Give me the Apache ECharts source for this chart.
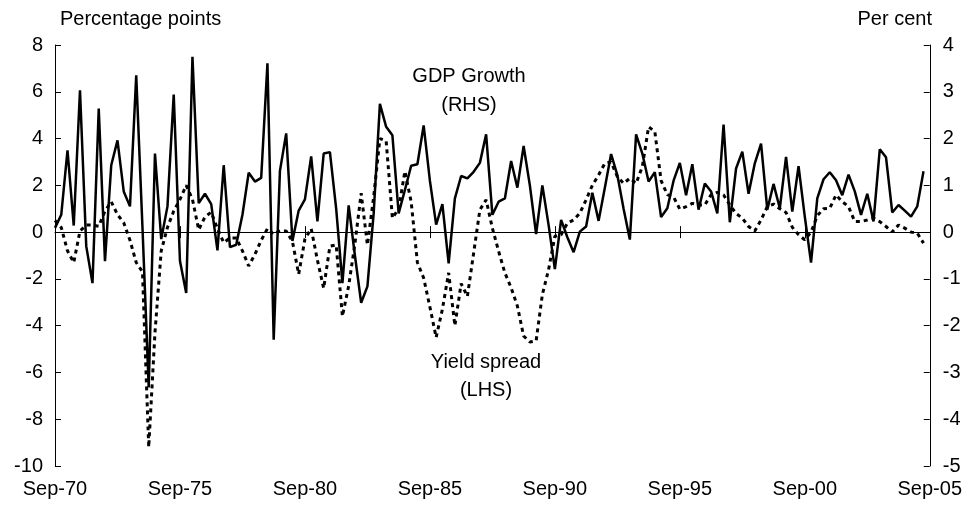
<!DOCTYPE html>
<html>
<head>
<meta charset="utf-8">
<script src="https://cdn.jsdelivr.net/npm/echarts@6/dist/echarts.min.js"></script>
<style>
  html, body { margin: 0; padding: 0; background: #ffffff; }
  #chart { width: 965px; height: 508px; }
</style>
</head>
<body>
<div id="chart"></div>
<script>
// Quarterly GDP growth, per cent (right-hand scale), Sep-70 onwards
const gdpGrowth = [
  0.09, 0.37, 1.75, 0.14, 3.03, -0.30, -1.09, 2.64, -0.62, 1.43,
  1.96, 0.87, 0.55, 3.35, 0.10, -3.32, 1.68, -0.15, 0.55, 2.94,
  -0.62, -1.30, 3.75, 0.62, 0.82, 0.60, -0.39, 1.43, -0.32, -0.27,
  0.37, 1.27, 1.08, 1.16, 3.61, -2.30, 1.31, 2.11, -0.19, 0.46,
  0.70, 1.62, 0.23, 1.68, 1.71, 0.50, -1.09, 0.57, -0.50, -1.51,
  -1.16, 0.40, 2.74, 2.25, 2.07, 0.40, 0.90, 1.42, 1.45, 2.28,
  1.10, 0.16, 0.60, -0.67, 0.72, 1.20, 1.15, 1.29, 1.48, 2.09,
  0.37, 0.65, 0.72, 1.52, 0.95, 1.84, 1.00, -0.04, 1.00, 0.15,
  -0.79, 0.26, -0.11, -0.43, 0.01, 0.12, 0.84, 0.24, 0.95, 1.67,
  1.22, 0.50, -0.16, 2.09, 1.68, 1.08, 1.28, 0.32, 0.51, 1.10,
  1.48, 0.79, 1.45, 0.48, 1.04, 0.87, 0.40, 2.30, 0.21, 1.36,
  1.72, 0.82, 1.47, 1.89, 0.48, 1.03, 0.51, 1.61, 0.44, 1.41,
  0.33, -0.65, 0.72, 1.13, 1.28, 1.11, 0.79, 1.23, 0.87, 0.37,
  0.82, 0.23, 1.77, 1.60, 0.42, 0.58, 0.46, 0.33, 0.55, 1.30
];

// Yield spread, percentage points (left-hand scale)
const yieldSpread = [
  0.50, 0.20, -0.80, -1.30, 0.05, 0.30, 0.30, 0.25, 0.90, 1.30,
  0.75, 0.40, -0.35, -1.30, -1.70, -9.20, -4.30, -0.80, 0.20, 0.90,
  1.40, 2.00, 1.40, 0.10, 0.65, 0.85, 0.15, -0.45, -0.25, -0.25,
  -0.80, -1.45, -0.95, -0.35, 0.15, -0.10, 0.05, 0.05, -0.40, -1.80,
  -0.30, 0.15, -1.20, -2.40, -0.60, -0.55, -3.60, -2.30, -0.50, 1.66,
  -0.55, 1.50, 4.00, 3.90, 0.60, 1.00, 2.60, 1.30, -1.30, -1.96,
  -3.20, -4.50, -3.30, -1.74, -4.00, -2.20, -2.75, -0.90, 0.95, 1.38,
  0.17, -0.82, -1.74, -2.38, -3.16, -4.44, -4.70, -4.65, -2.67, -1.60,
  -0.18, -0.11, 0.38, 0.52, 0.81, 1.38, 2.00, 2.44, 2.94, 3.00,
  2.37, 2.08, 2.30, 2.08, 2.80, 4.50, 4.30, 2.20, 1.60, 1.50,
  0.98, 1.09, 1.23, 1.16, 1.16, 1.60, 1.70, 1.59, 1.16, 0.80,
  0.60, 0.24, 0.05, 0.52, 1.09, 1.20, 1.00, 0.84, 0.21, -0.11,
  -0.33, 0.00, 0.70, 1.00, 1.02, 1.59, 1.30, 1.09, 0.45, 0.45,
  0.52, 0.60, 0.45, 0.24, 0.01, 0.30, 0.17, 0.00, -0.04, -0.47
];

// Axis tick labels shown on the date axis
const tickLabels = ['Sep-70', 'Sep-75', 'Sep-80', 'Sep-85', 'Sep-90', 'Sep-95', 'Sep-00', 'Sep-05'];

// Quarter names from Sep-70 to Sep-05
const monthNames = ['Sep', 'Dec', 'Mar', 'Jun'];
const quarters = [];
for (let k = 0; k <= 140; k++) {
  const yr = (70 + Math.floor((k + 2) / 4)) % 100;
  quarters.push(monthNames[k % 4] + '-' + String(yr).padStart(2, '0'));
}

const FONT = '"Liberation Sans", Arial, sans-serif';
const FS = 20;
const isTick = (idx, val) => tickLabels.indexOf(val) >= 0;

const chart = echarts.init(document.getElementById('chart'), null, { renderer: 'canvas' });

const dateAxisBase = {
  type: 'category',
  data: quarters,
  boundaryGap: false,
  splitLine: { show: false }
};

chart.setOption({
  animation: false,
  backgroundColor: '#ffffff',
  grid: { left: 55, right: 35, top: 45, bottom: 42, containLabel: false },
  xAxis: [
    Object.assign({}, dateAxisBase, {
      position: 'bottom',
      axisLine: { show: false, onZero: false },
      axisTick: { show: false },
      axisLabel: {
        interval: isTick,
        margin: 13,
        color: '#000',
        fontFamily: FONT,
        fontSize: FS
      }
    }),
    Object.assign({}, dateAxisBase, {
      position: 'bottom',
      axisLine: { show: true, onZero: true, onZeroAxisIndex: 0, lineStyle: { color: '#000', width: 1 } },
      axisTick: { show: true, inside: false, length: 6, interval: isTick, lineStyle: { color: '#000', width: 1 } },
      axisLabel: { show: false }
    }),
    Object.assign({}, dateAxisBase, {
      position: 'bottom',
      axisLine: { show: false, onZero: true, onZeroAxisIndex: 1 },
      axisTick: { show: true, inside: true, length: 6, interval: isTick, lineStyle: { color: '#000', width: 1 } },
      axisLabel: { show: false }
    })
  ],
  yAxis: [
    {
      type: 'value',
      position: 'left',
      min: -10, max: 8, interval: 2,
      axisLine: { show: true, onZero: false, lineStyle: { color: '#000', width: 1 } },
      axisTick: { show: true, inside: true, length: 6, lineStyle: { color: '#000', width: 1 } },
      splitLine: { show: false },
      axisLabel: { margin: 12, color: '#000', fontFamily: FONT, fontSize: FS }
    },
    {
      type: 'value',
      position: 'right',
      min: -5, max: 4, interval: 1,
      axisLine: { show: true, onZero: false, lineStyle: { color: '#000', width: 1 } },
      axisTick: { show: true, inside: true, length: 6, lineStyle: { color: '#000', width: 1 } },
      splitLine: { show: false },
      axisLabel: { margin: 13, color: '#000', fontFamily: FONT, fontSize: FS }
    }
  ],
  series: [
    {
      name: 'Yield spread',
      type: 'line',
      xAxisIndex: 0,
      yAxisIndex: 0,
      data: yieldSpread,
      showSymbol: false,
      lineStyle: { color: '#000', width: 3, type: [4, 4], cap: 'butt' },
      z: 2
    },
    {
      name: 'GDP Growth',
      type: 'line',
      xAxisIndex: 0,
      yAxisIndex: 1,
      data: gdpGrowth,
      showSymbol: false,
      lineStyle: { color: '#000', width: 2.5 },
      z: 3
    }
  ],
  graphic: [
    { type: 'text', left: 60, top: 9, style: { text: 'Percentage points', font: FS + 'px ' + FONT, fill: '#000' } },
    { type: 'text', right: 33, top: 9, style: { text: 'Per cent', font: FS + 'px ' + FONT, fill: '#000' } },
    { type: 'text', x: 469, y: 76, style: { text: 'GDP Growth', font: FS + 'px ' + FONT, fill: '#000', align: 'center', verticalAlign: 'middle' } },
    { type: 'text', x: 469, y: 105, style: { text: '(RHS)', font: FS + 'px ' + FONT, fill: '#000', align: 'center', verticalAlign: 'middle' } },
    { type: 'text', x: 486, y: 362, style: { text: 'Yield spread', font: FS + 'px ' + FONT, fill: '#000', align: 'center', verticalAlign: 'middle' } },
    { type: 'text', x: 486, y: 390, style: { text: '(LHS)', font: FS + 'px ' + FONT, fill: '#000', align: 'center', verticalAlign: 'middle' } }
  ]
});
</script>
</body>
</html>
